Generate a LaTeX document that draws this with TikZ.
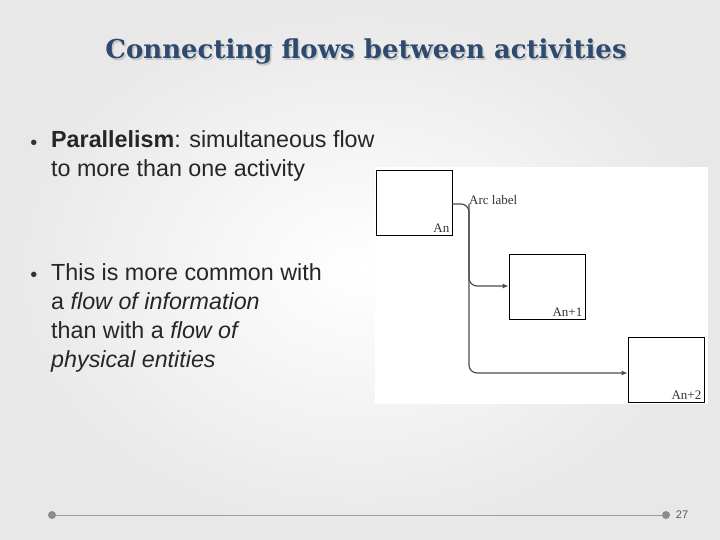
\documentclass[tikz,border=0pt]{standalone}
\usepackage{fontspec}
\setmainfont{Liberation Sans}
\newfontfamily\titlefont{DejaVu Serif}
\newfontfamily\labfont{Liberation Serif}
\usetikzlibrary{arrows.meta}
\definecolor{titlec}{HTML}{2E4A6E}
\definecolor{linec}{HTML}{A0A0A0}
\tikzset{box/.style={draw=black,line width=0.9pt,fill=white,minimum width=76pt,minimum height=65pt,inner sep=0pt},
 lab/.style={font=\labfont\fontsize{13}{14}\selectfont,text=black!80,inner sep=3pt},
 flow/.style={draw=black!70,line width=1.2pt,rounded corners=8pt},
 txt/.style={anchor=north west,align=left,font=\fontsize{23.3}{29}\selectfont,text=black!85,inner sep=0pt}}
\begin{document}
\begin{tikzpicture}[x=1pt,y=-1pt]
\useasboundingbox (0,0) rectangle (720,540);
\shade[inner color=white,outer color=black!9] (0,0) rectangle (720,540);
\fill[white] (375,167) rectangle (708,404);
\node[font=\titlefont\bfseries\fontsize{26}{28}\selectfont,text=black!22] at (367.5,53.5) {Connecting flows between activities};
\node[font=\titlefont\bfseries\fontsize{26}{28}\selectfont,text=titlec] (title) at (366,52) {Connecting flows between activities};
\node[txt] (b1) at (51,130) {\textbf{Parallelism}: simultaneous flow\\to more than one activity};
\node[font=\fontsize{20}{20}\selectfont,text=black!80] (d1) at (34,145) {•};
\node[txt] (b2) at (51,263) {This is more common with\\a \textit{flow of information}\\than with a \textit{flow of}\\\textit{physical entities}};
\node[font=\fontsize{20}{20}\selectfont,text=black!80] (d2) at (34,277) {•};
\node[box] (a0) at (414,202.5) {};
\node[box] (a1) at (547,287) {};
\node[box] (a2) at (666,369.5) {};
\node[lab,anchor=south east] (l0) at (a0.south east) {An};
\node[lab,anchor=south east] (l1) at (a1.south east) {An+1};
\node[lab,anchor=south east] (l2) at (a2.south east) {An+2};
\node[lab,anchor=west] (arc) at (466,200) {Arc label};
\coordinate (j) at (469,204);
\coordinate (k1) at (469,286);
\coordinate (k2) at (469,373);
\draw[flow,-{Latex[length=6pt,width=5pt]}] (a0.east|-j) -- (j) -- (k1) -- (a1.west|-k1);
\draw[flow,-{Latex[length=6pt,width=5pt]}] (j) -- (k2) -- (a2.west|-k2);
\draw[linec,line width=0.8pt] (52,515) coordinate (e1) -- (666,515) coordinate (e2);
\fill[black!45] (e1) circle (4);
\fill[black!45] (e2) circle (4);
\node[font=\fontsize{11}{12}\selectfont,text=black!65] (pg) at (682,515) {27};
\end{tikzpicture}
\end{document}
